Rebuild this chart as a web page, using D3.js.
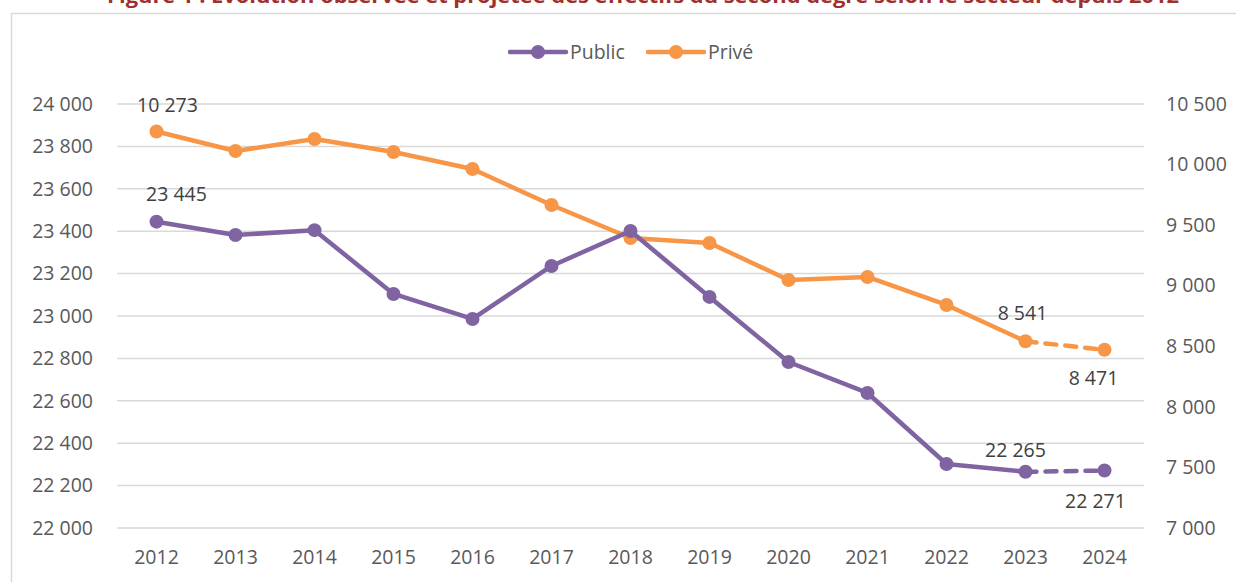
<!DOCTYPE html>
<html>
<head>
<meta charset="utf-8">
<script src="https://cdn.jsdelivr.net/npm/d3@7"></script>
<style>
  body { margin: 0; background: #fff; }
  text { font-family: "Open Sans", "Liberation Sans", sans-serif; }
</style>
</head>
<body>
<div id="chart"></div>
<script>
const years = ["2012", "2013", "2014", "2015", "2016", "2017", "2018", "2019", "2020", "2021", "2022", "2023", "2024"];
const publicValues = [23445, 23382, 23405, 23104, 22986, 23236, 23401, 23090, 22783, 22637, 22302, 22265, 22271];
const priveValues = [10273, 10112, 10211, 10104, 9963, 9666, 9394, 9353, 9047, 9072, 8841, 8541, 8471];
const leftTicks = [22000, 22200, 22400, 22600, 22800, 23000, 23200, 23400, 23600, 23800, 24000];
const rightTicks = [7000, 7500, 8000, 8500, 9000, 9500, 10000, 10500];
const title = "Figure 1 : Évolution observée et projetée des effectifs du second degré selon le secteur depuis 2012";

const W = 1236, H = 582;
const purple = "#8064A2", orange = "#F79646";
const fs = 19.5;
const fmt = v => d3.format(",")(v).replace(/,/g, " ");

const svg = d3.select("#chart").append("svg").attr("width", W).attr("height", H);

// title, cut off by the top edge (as in the source)
svg.append("text")
  .attr("x", 643).attr("y", 3)
  .attr("text-anchor", "middle")
  .attr("font-size", 19).attr("font-weight", "bold")
  .attr("fill", "#A0302E")
  .attr("textLength", 1072).attr("lengthAdjust", "spacingAndGlyphs")
  .text(title);

// chart frame
svg.append("path")
  .attr("d", `M11.5,${H} V13.5 H${W}`)
  .attr("fill", "none").attr("stroke", "#d9d9d9").attr("stroke-width", 1.5);

const x = d3.scaleBand().domain(years).range([117, 1144]);
const yL = d3.scaleLinear().domain([22000, 24000]).range([528, 104]);
const yR = d3.scaleLinear().domain([7000, 10500]).range([528, 104]);
const cx = d => x(d) + x.bandwidth() / 2;

// grid
svg.append("g").selectAll("line").data(leftTicks).join("line")
  .attr("x1", 117).attr("x2", 1144)
  .attr("y1", d => yL(d)).attr("y2", d => yL(d))
  .attr("stroke", "#d9d9d9").attr("stroke-width", 1.5);

// axes
const axL = svg.append("g").attr("transform", "translate(105,0)")
  .call(d3.axisLeft(yL).tickValues(leftTicks).tickFormat(fmt).tickSize(0).tickPadding(12));
const axR = svg.append("g").attr("transform", "translate(1146,0)")
  .call(d3.axisRight(yR).tickValues(rightTicks).tickFormat(fmt).tickSize(0).tickPadding(20));
const axB = svg.append("g").attr("transform", "translate(0,528)")
  .call(d3.axisBottom(x).tickSize(0).tickPadding(22));
[axL, axR, axB].forEach(g => {
  g.select(".domain").remove();
  g.selectAll("text").attr("font-size", fs).attr("fill", "#595959")
    .style("font-family", "'Open Sans', sans-serif");
});

function drawSeries(values, y, color) {
  const pts = values.map((v, i) => [cx(years[i]), y(v)]);
  const line = d3.line();
  svg.append("path").attr("d", line(pts.slice(0, 12)))
    .attr("fill", "none").attr("stroke", color).attr("stroke-width", 4.5)
    .attr("stroke-linejoin", "round").attr("stroke-linecap", "round");
  svg.append("path").attr("d", line(pts.slice(11)))
    .attr("fill", "none").attr("stroke", color).attr("stroke-width", 4.5)
    .attr("stroke-dasharray", "11,9").attr("stroke-linecap", "round");
  svg.append("g").selectAll("circle").data(pts).join("circle")
    .attr("cx", d => d[0]).attr("cy", d => d[1]).attr("r", 7).attr("fill", color);
}
drawSeries(priveValues, yR, orange);
drawSeries(publicValues, yL, purple);

// data labels
const labels = [
  {i: 0, v: publicValues[0], y: yL(publicValues[0]), dx: 20, dy: -21},
  {i: 11, v: publicValues[11], y: yL(publicValues[11]), dx: -10, dy: -15},
  {i: 12, v: publicValues[12], y: yL(publicValues[12]), dx: -9, dy: 37},
  {i: 0, v: priveValues[0], y: yR(priveValues[0]), dx: 11, dy: -19},
  {i: 11, v: priveValues[11], y: yR(priveValues[11]), dx: -3, dy: -21},
  {i: 12, v: priveValues[12], y: yR(priveValues[12]), dx: -11, dy: 35}
];
svg.append("g").selectAll("text").data(labels).join("text")
  .attr("x", d => cx(years[d.i]) + d.dx)
  .attr("y", d => d.y + d.dy)
  .attr("text-anchor", "middle")
  .attr("font-size", fs).attr("fill", "#404040")
  .text(d => fmt(d.v));

// legend
const legend = [{name: "Public", color: purple, x: 510}, {name: "Privé", color: orange, x: 648}];
const lg = svg.append("g").selectAll("g").data(legend).join("g")
  .attr("transform", d => `translate(${d.x},52)`);
lg.append("line").attr("x1", 0).attr("x2", 56)
  .attr("stroke", d => d.color).attr("stroke-width", 4.5).attr("stroke-linecap", "round");
lg.append("circle").attr("cx", 28).attr("r", 7).attr("fill", d => d.color);
lg.append("text").attr("x", 60).attr("y", 7)
  .attr("font-size", fs).attr("fill", "#595959").text(d => d.name);
</script>
</body>
</html>
